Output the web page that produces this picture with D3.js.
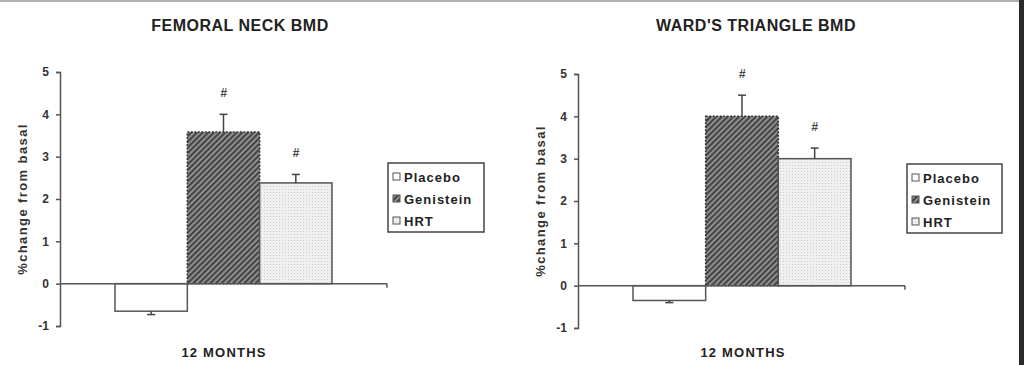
<!DOCTYPE html>
<html>
<head>
<meta charset="utf-8">
<script src="https://cdn.jsdelivr.net/npm/d3@7"></script>
<style>
  body { margin: 0; background: #fff; }
  svg { display: block; font-family: "Liberation Sans", Arial, sans-serif; }
  .axis path, .axis line { stroke: #555; stroke-width: 1.5px; }
  .axis text { font-size: 12px; font-weight: bold; fill: #333; }
</style>
</head>
<body>
<div id="chart-area"></div>
<script>
// data
const groups = ["Placebo", "Genistein", "HRT"]
const femoralMeans = [-0.65, 3.58, 2.38]
const femoralErrors = [0.08, 0.42, 0.2]
const femoralMarks = ["", "#", "#"]
const wardMeans = [-0.35, 4.0, 3.0]
const wardErrors = [0.05, 0.5, 0.25]
const wardMarks = ["", "#", "#"]
const yTicks = [-1, 0, 1, 2, 3, 4, 5]
const xLabel = "12 MONTHS"

const WIDTH = 1024
const HEIGHT = 365

const svg = d3.select("#chart-area").append("svg")
  .attr("width", WIDTH)
  .attr("height", HEIGHT)

// fills for the three groups
const defs = svg.append("defs")
const hatch = defs.append("pattern")
  .attr("id", "hatch")
  .attr("patternUnits", "userSpaceOnUse")
  .attr("width", 4)
  .attr("height", 4)
  .attr("patternTransform", "rotate(45)")
hatch.append("rect").attr("width", 4).attr("height", 4).attr("fill", "#8e8e8e")
hatch.append("rect").attr("width", 2).attr("height", 4).attr("fill", "#444")

const dots = defs.append("pattern")
  .attr("id", "dots")
  .attr("patternUnits", "userSpaceOnUse")
  .attr("width", 3)
  .attr("height", 3)
dots.append("rect").attr("width", 3).attr("height", 3).attr("fill", "#f0f0f0")
dots.append("rect").attr("width", 1).attr("height", 1).attr("fill", "#cdcdcd")

const fills = ["#ffffff", "url(#hatch)", "url(#dots)"]
const strokes = ["#555", "#333", "#555"]
const dashes = [null, "2,1.5", null]

// frame edges of the scanned figure
svg.append("rect").attr("x", 0).attr("y", 0).attr("width", WIDTH).attr("height", 2).attr("fill", "#b0b0b0")
svg.append("rect").attr("x", 1019).attr("y", 0).attr("width", 5).attr("height", HEIGHT).attr("fill", "#2a2a2a")

const panels = [
  { title: "FEMORAL NECK BMD", means: femoralMeans, errors: femoralErrors, marks: femoralMarks,
    axisX: 60, yTop: 72, yBottom: 326, barLeft: 115, barRight: 332, axisEnd: 387,
    titleX: 240, labelX: 224, yLabelX: 27, legend: { x: 388, y: 163, w: 96, h: 69 } },
  { title: "WARD'S TRIANGLE BMD", means: wardMeans, errors: wardErrors, marks: wardMarks,
    axisX: 578, yTop: 74, yBottom: 328, barLeft: 633, barRight: 851, axisEnd: 905,
    titleX: 756, labelX: 743, yLabelX: 545, legend: { x: 907, y: 164, w: 95, h: 69 } }
]

panels.forEach(p => drawPanel(p))

function drawPanel(p) {
  const g = svg.append("g")

  const y = d3.scaleLinear().domain([-1, 5]).range([p.yBottom, p.yTop])
  const x = d3.scaleBand().domain(groups).range([p.barLeft, p.barRight]).padding(0)

  // title
  g.append("text")
    .attr("x", p.titleX)
    .attr("y", 31)
    .attr("text-anchor", "middle")
    .attr("font-size", "16px")
    .attr("font-weight", "bold")
    .attr("letter-spacing", "0.5px")
    .attr("fill", "#222")
    .text(p.title)

  // y axis
  const yAxisCall = d3.axisLeft(y)
    .tickValues(yTicks)
    .tickSize(4)
    .tickSizeOuter(4)
    .tickPadding(7)
    .tickFormat(d => String(d))
  g.append("g")
    .attr("class", "y axis")
    .attr("transform", `translate(${p.axisX}, 0)`)
    .call(yAxisCall)

  // bars
  g.selectAll(".bar").data(groups).enter().append("rect")
    .attr("class", "bar")
    .attr("x", d => x(d))
    .attr("width", x.bandwidth())
    .attr("y", (d, i) => y(Math.max(0, p.means[i])))
    .attr("height", (d, i) => Math.abs(y(p.means[i]) - y(0)))
    .attr("fill", (d, i) => fills[i])
    .attr("stroke", (d, i) => strokes[i])
    .attr("stroke-width", 1.5)
    .attr("stroke-dasharray", (d, i) => dashes[i])

  // error bars (drawn away from zero)
  const err = g.selectAll(".err").data(groups).enter().append("g").attr("class", "err")
  const tipY = (i) => y(p.means[i] + Math.sign(p.means[i]) * p.errors[i])
  err.append("line")
    .attr("x1", d => x(d) + x.bandwidth() / 2)
    .attr("x2", d => x(d) + x.bandwidth() / 2)
    .attr("y1", (d, i) => y(p.means[i]))
    .attr("y2", (d, i) => tipY(i))
    .attr("stroke", "#444")
    .attr("stroke-width", 1.5)
  err.append("line")
    .attr("x1", d => x(d) + x.bandwidth() / 2 - 4)
    .attr("x2", d => x(d) + x.bandwidth() / 2 + 4)
    .attr("y1", (d, i) => tipY(i))
    .attr("y2", (d, i) => tipY(i))
    .attr("stroke", "#444")
    .attr("stroke-width", 1.5)

  // significance marks
  g.selectAll(".mark").data(groups).enter().append("text")
    .attr("class", "mark")
    .attr("x", d => x(d) + x.bandwidth() / 2)
    .attr("y", (d, i) => tipY(i) - 17)
    .attr("text-anchor", "middle")
    .attr("font-size", "12px")
    .attr("font-weight", "bold")
    .attr("font-style", "italic")
    .attr("fill", "#444")
    .text((d, i) => p.marks[i])

  // zero line across
  g.append("line")
    .attr("x1", p.axisX)
    .attr("x2", p.axisEnd)
    .attr("y1", y(0))
    .attr("y2", y(0))
    .attr("stroke", "#555")
    .attr("stroke-width", 1.5)
  g.append("line")
    .attr("x1", p.axisEnd)
    .attr("x2", p.axisEnd)
    .attr("y1", y(0))
    .attr("y2", y(0) + 4)
    .attr("stroke", "#555")
    .attr("stroke-width", 1.5)

  // axis labels
  g.append("text")
    .attr("x", p.labelX)
    .attr("y", 357)
    .attr("text-anchor", "middle")
    .attr("font-size", "13px")
    .attr("font-weight", "bold")
    .attr("letter-spacing", "1.2px")
    .attr("fill", "#222")
    .text(xLabel)
  g.append("text")
    .attr("transform", `translate(${p.yLabelX}, ${(p.yTop + p.yBottom) / 2}) rotate(-90)`)
    .attr("text-anchor", "middle")
    .attr("font-size", "13px")
    .attr("font-weight", "bold")
    .attr("letter-spacing", "1.4px")
    .attr("fill", "#333")
    .text("%change from basal")

  // legend
  const L = p.legend
  const lg = g.append("g").attr("transform", `translate(${L.x}, ${L.y})`)
  lg.append("rect")
    .attr("width", L.w)
    .attr("height", L.h)
    .attr("fill", "#fff")
    .attr("stroke", "#444")
    .attr("stroke-width", 1.5)
  const rows = lg.selectAll(".row").data(groups).enter().append("g")
    .attr("transform", (d, i) => `translate(5, ${14 + i * 22})`)
  rows.append("rect")
    .attr("y", -4)
    .attr("width", 7)
    .attr("height", 7)
    .attr("fill", (d, i) => fills[i])
    .attr("stroke", "#555")
    .attr("stroke-width", 1)
  rows.append("text")
    .attr("x", 11)
    .attr("dy", "0.35em")
    .attr("font-size", "13px")
    .attr("font-weight", "bold")
    .attr("letter-spacing", "1px")
    .attr("fill", "#222")
    .text(d => d)
}
</script>
</body>
</html>
